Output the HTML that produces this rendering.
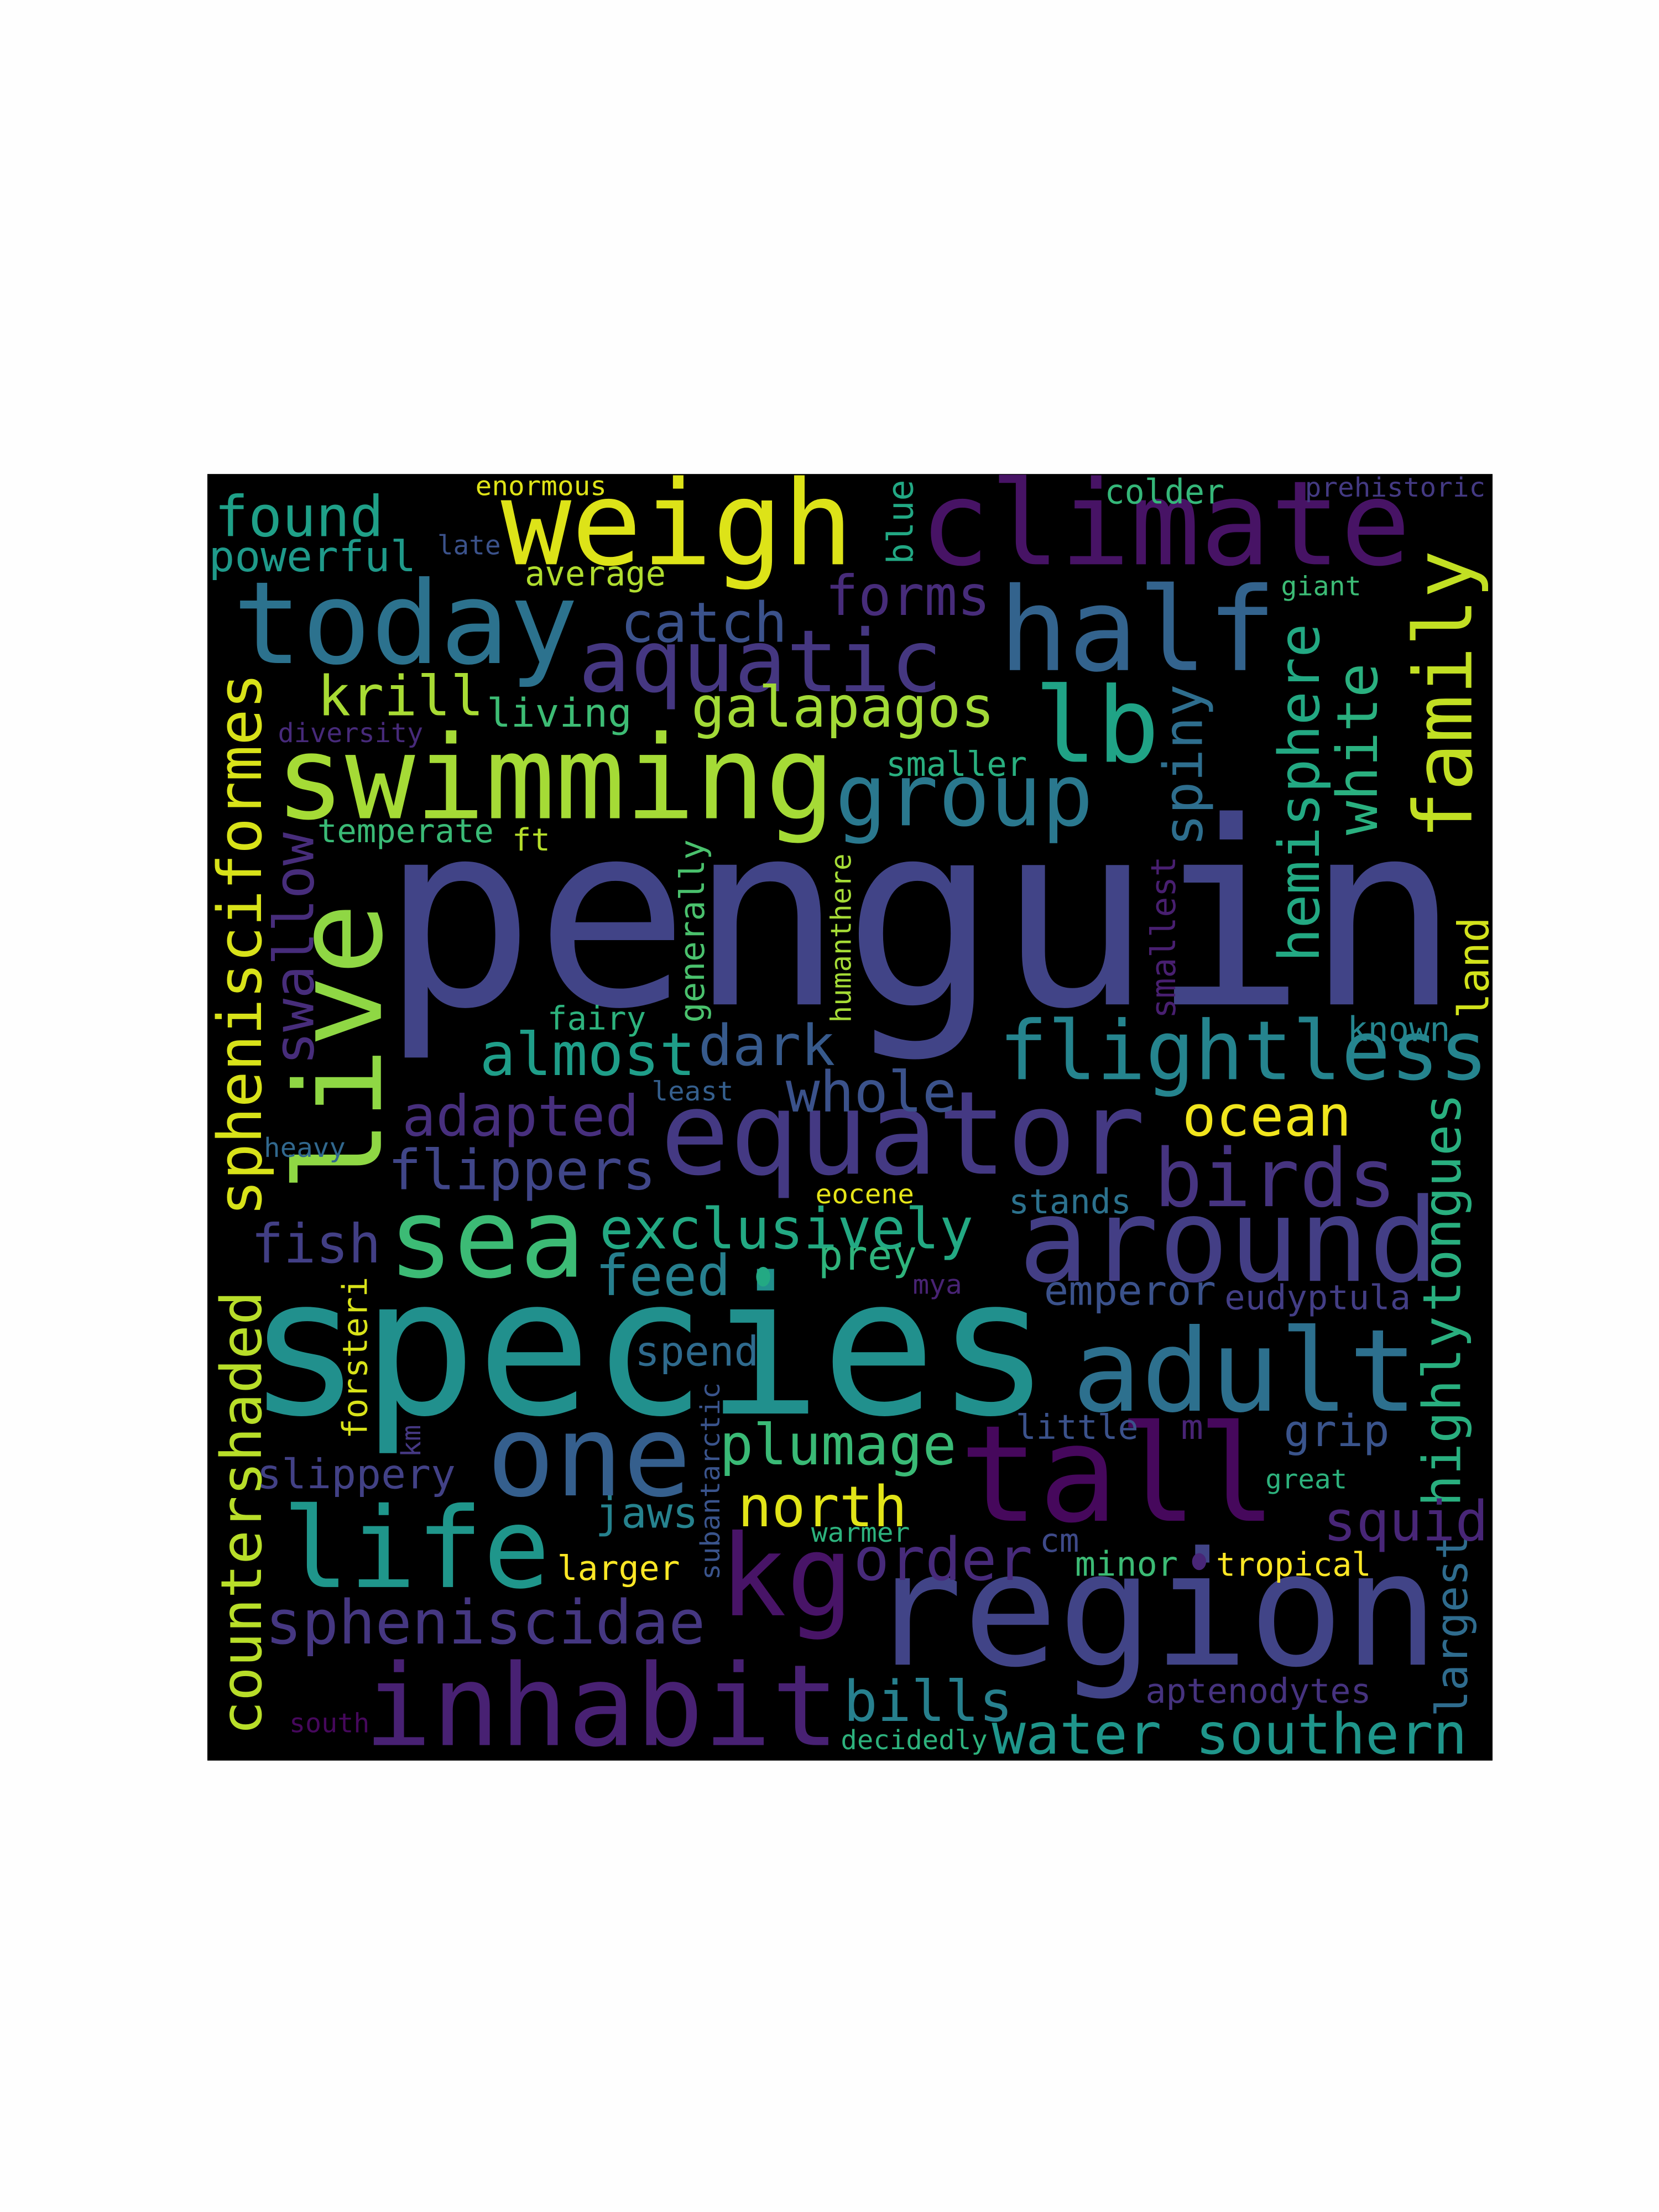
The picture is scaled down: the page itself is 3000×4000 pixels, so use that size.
<!DOCTYPE html>
<html><head><meta charset="utf-8"><style>
html,body{margin:0;padding:0;background:#fff;}
svg{display:block;}
text{font-family:"DejaVu Sans Mono","Liberation Mono",monospace;}
</style></head><body>
<svg width="3000" height="4000" viewBox="0 0 1176 1568" xmlns="http://www.w3.org/2000/svg">
<rect x="0" y="0" width="1176" height="1568" fill="#fefefe"/>
<rect x="147" y="336" width="911" height="912" fill="#000"/>
<g>
<text x="270" y="712" font-size="181" fill="#414487" textLength="765" lengthAdjust="spacingAndGlyphs">penguin</text>
<text x="175" y="1002" font-size="135" fill="#21908d" textLength="570" lengthAdjust="spacingAndGlyphs">species</text>
<text x="615" y="1180" font-size="112" fill="#414487" textLength="405" lengthAdjust="spacingAndGlyphs">region</text>
<text x="680" y="1078" font-size="95" fill="#46085c" textLength="225" lengthAdjust="spacingAndGlyphs">tall</text>
<text x="258" y="1237" font-size="80" fill="#482173" textLength="337" lengthAdjust="spacingAndGlyphs">inhabit</text>
<text x="510" y="1145" font-size="80" fill="#481467" textLength="95" lengthAdjust="spacingAndGlyphs">kg</text>
<text x="200" y="1125" font-size="79" fill="#1f968b" textLength="190" lengthAdjust="spacingAndGlyphs">life</text>
<text x="345" y="1060" font-size="80" fill="#355f8d" textLength="145" lengthAdjust="spacingAndGlyphs">one</text>
<text x="760" y="1000" font-size="81" fill="#2d708e" textLength="245" lengthAdjust="spacingAndGlyphs">adult</text>
<text x="722" y="908" font-size="82" fill="#433e85" textLength="298" lengthAdjust="spacingAndGlyphs">around</text>
<text x="468" y="832" font-size="82" fill="#443983" textLength="344" lengthAdjust="spacingAndGlyphs">equator</text>
<text x="275" y="905" font-size="78" fill="#3cbb75" textLength="140" lengthAdjust="spacingAndGlyphs">sea</text>
<text x="165" y="470" font-size="81" fill="#2c728e" textLength="245" lengthAdjust="spacingAndGlyphs">today</text>
<text x="708" y="475" font-size="82" fill="#33638d" textLength="197" lengthAdjust="spacingAndGlyphs">half</text>
<text x="652" y="400" font-size="83" fill="#471365" textLength="348" lengthAdjust="spacingAndGlyphs">climate</text>
<text x="355" y="400" font-size="83" fill="#dde318" textLength="250" lengthAdjust="spacingAndGlyphs">weigh</text>
<text x="195" y="580" font-size="82" fill="#a5db36" textLength="397" lengthAdjust="spacingAndGlyphs">swimming</text>
<text x="592" y="585" font-size="61" fill="#2a788e" textLength="183" lengthAdjust="spacingAndGlyphs">group</text>
<text x="733" y="540" font-size="74" fill="#20a386" textLength="89" lengthAdjust="spacingAndGlyphs">lb</text>
<text x="410" y="490" font-size="61" fill="#453781" textLength="258" lengthAdjust="spacingAndGlyphs">aquatic</text>
<text x="708" y="765" font-size="58" fill="#25848e" textLength="347" lengthAdjust="spacingAndGlyphs">flightless</text>
<text x="818" y="855" font-size="57" fill="#463480" textLength="172" lengthAdjust="spacingAndGlyphs">birds</text>

<text transform="translate(270,845) rotate(-90)" font-size="85" fill="#8fd744" textLength="205" lengthAdjust="spacingAndGlyphs">live</text>
<text transform="translate(1043,595) rotate(-90)" font-size="57" fill="#c2df23" textLength="205" lengthAdjust="spacingAndGlyphs">family</text>
<text transform="translate(935,682) rotate(-90)" font-size="40" fill="#23a983" textLength="240" lengthAdjust="spacingAndGlyphs">hemisphere</text>
<text transform="translate(976,592) rotate(-90)" font-size="40" fill="#2ab07f" textLength="122" lengthAdjust="spacingAndGlyphs">white</text>
<text transform="translate(852,600) rotate(-90)" font-size="38" fill="#2e6e8e" textLength="115" lengthAdjust="spacingAndGlyphs">spiny</text>
<text transform="translate(185,862) rotate(-90)" font-size="43" fill="#d8e219" textLength="385" lengthAdjust="spacingAndGlyphs">sphenisciformes</text>
<text transform="translate(185,1230) rotate(-90)" font-size="40" fill="#b8de29" textLength="315" lengthAdjust="spacingAndGlyphs">countershaded</text>
<text transform="translate(222,755) rotate(-90)" font-size="39" fill="#472d7b" textLength="165" lengthAdjust="spacingAndGlyphs">swallow</text>
<text transform="translate(1035,1068) rotate(-90)" font-size="37" fill="#29af7f" textLength="135" lengthAdjust="spacingAndGlyphs">highly</text>
<text transform="translate(1035,930) rotate(-90)" font-size="37" fill="#29af7f" textLength="155" lengthAdjust="spacingAndGlyphs">tongues</text>
<text transform="translate(1055,722) rotate(-90)" font-size="30" fill="#d2e21b" textLength="72" lengthAdjust="spacingAndGlyphs">land</text>
<text transform="translate(1040,1217) rotate(-90)" font-size="31" fill="#2f6c8e" textLength="130" lengthAdjust="spacingAndGlyphs">largest</text>
<text transform="translate(833,722) rotate(-90)" font-size="24" fill="#481f70" textLength="115" lengthAdjust="spacingAndGlyphs">smallest</text>
<text transform="translate(499,725) rotate(-90)" font-size="24" fill="#4ac16d" textLength="130" lengthAdjust="spacingAndGlyphs">generally</text>
<text transform="translate(603,725) rotate(-90)" font-size="20" fill="#a5db36" textLength="120" lengthAdjust="spacingAndGlyphs">humanthere</text>
<text transform="translate(647,400) rotate(-90)" font-size="25" fill="#22a884" textLength="60" lengthAdjust="spacingAndGlyphs">blue</text>
<text transform="translate(260,1020) rotate(-90)" font-size="24" fill="#d8e219" textLength="115" lengthAdjust="spacingAndGlyphs">forsteri</text>
<text transform="translate(510,1120) rotate(-90)" font-size="19" fill="#3a548c" textLength="140" lengthAdjust="spacingAndGlyphs">subantarctic</text>
<text transform="translate(298,1033) rotate(-90)" font-size="19" fill="#453882" textLength="23" lengthAdjust="spacingAndGlyphs">km</text>

<text x="152" y="380" font-size="40" fill="#1fa088" textLength="120" lengthAdjust="spacingAndGlyphs">found</text>
<text x="148" y="405" font-size="30" fill="#1f9a8a" textLength="147" lengthAdjust="spacingAndGlyphs">powerful</text>
<text x="337" y="351" font-size="19" fill="#dfe318" textLength="93" lengthAdjust="spacingAndGlyphs">enormous</text>
<text x="310" y="393" font-size="19" fill="#3b528b" textLength="45" lengthAdjust="spacingAndGlyphs">late</text>
<text x="372" y="415" font-size="24" fill="#b0dd2f" textLength="100" lengthAdjust="spacingAndGlyphs">average</text>
<text x="440" y="455" font-size="39" fill="#3b528b" textLength="118" lengthAdjust="spacingAndGlyphs">catch</text>
<text x="585" y="436" font-size="39" fill="#472c7a" textLength="117" lengthAdjust="spacingAndGlyphs">forms</text>
<text x="783" y="357" font-size="24" fill="#35b779" textLength="85" lengthAdjust="spacingAndGlyphs">colder</text>
<text x="925" y="352" font-size="19" fill="#443a83" textLength="128" lengthAdjust="spacingAndGlyphs">prehistoric</text>
<text x="908" y="422" font-size="19" fill="#3cbb75" textLength="57" lengthAdjust="spacingAndGlyphs">giant</text>
<text x="225" y="507" font-size="39" fill="#a8db34" textLength="118" lengthAdjust="spacingAndGlyphs">krill</text>
<text x="345" y="515" font-size="28" fill="#3dbc74" textLength="103" lengthAdjust="spacingAndGlyphs">living</text>
<text x="490" y="515" font-size="40" fill="#a2da37" textLength="215" lengthAdjust="spacingAndGlyphs">galapagos</text>
<text x="197" y="526" font-size="19" fill="#472a7a" textLength="103" lengthAdjust="spacingAndGlyphs">diversity</text>
<text x="628" y="550" font-size="24" fill="#29af7f" textLength="100" lengthAdjust="spacingAndGlyphs">smaller</text>
<text x="225" y="597" font-size="23" fill="#3aba76" textLength="125" lengthAdjust="spacingAndGlyphs">temperate</text>
<text x="363" y="603" font-size="22" fill="#b5de2b" textLength="27" lengthAdjust="spacingAndGlyphs">ft</text>
<text x="340" y="762" font-size="42" fill="#1f9e89" textLength="153" lengthAdjust="spacingAndGlyphs">almost</text>
<text x="495" y="755" font-size="40" fill="#375a8c" textLength="97" lengthAdjust="spacingAndGlyphs">dark</text>
<text x="388" y="730" font-size="23" fill="#2db27d" textLength="70" lengthAdjust="spacingAndGlyphs">fairy</text>
<text x="557" y="788" font-size="40" fill="#3b528b" textLength="121" lengthAdjust="spacingAndGlyphs">whole</text>
<text x="462" y="780" font-size="19" fill="#355f8d" textLength="58" lengthAdjust="spacingAndGlyphs">least</text>
<text x="285" y="805" font-size="40" fill="#472f7d" textLength="168" lengthAdjust="spacingAndGlyphs">adapted</text>
<text x="838" y="805" font-size="40" fill="#f1e51d" textLength="120" lengthAdjust="spacingAndGlyphs">ocean</text>
<text x="955" y="738" font-size="24" fill="#25858e" textLength="73" lengthAdjust="spacingAndGlyphs">known</text>
<text x="187" y="820" font-size="19" fill="#31688e" textLength="58" lengthAdjust="spacingAndGlyphs">heavy</text>
<text x="275" y="843" font-size="39" fill="#404688" textLength="190" lengthAdjust="spacingAndGlyphs">flippers</text>
<text x="578" y="853" font-size="19" fill="#e5e419" textLength="70" lengthAdjust="spacingAndGlyphs">eocene</text>
<text x="715" y="860" font-size="24" fill="#2c728e" textLength="87" lengthAdjust="spacingAndGlyphs">stands</text>
<text x="425" y="885" font-size="40" fill="#23a983" textLength="265" lengthAdjust="spacingAndGlyphs">exclusively</text>
<text x="178" y="895" font-size="38" fill="#423f85" textLength="92" lengthAdjust="spacingAndGlyphs">fish</text>
<text x="422" y="918" font-size="40" fill="#277f8e" textLength="96" lengthAdjust="spacingAndGlyphs">feed</text>
<text x="580" y="900" font-size="29" fill="#2fb47c" textLength="70" lengthAdjust="spacingAndGlyphs">prey</text>
<text x="647" y="917" font-size="19" fill="#482374" textLength="35" lengthAdjust="spacingAndGlyphs">mya</text>
<text x="740" y="925" font-size="29" fill="#3b528b" textLength="122" lengthAdjust="spacingAndGlyphs">emperor</text>
<text x="868" y="928" font-size="24" fill="#433e85" textLength="132" lengthAdjust="spacingAndGlyphs">eudyptula</text>
<text x="450" y="968" font-size="29" fill="#2f6b8e" textLength="88" lengthAdjust="spacingAndGlyphs">spend</text>
<text x="720" y="1020" font-size="24" fill="#3b528b" textLength="87" lengthAdjust="spacingAndGlyphs">little</text>
<text x="837" y="1020" font-size="24" fill="#482475" textLength="16" lengthAdjust="spacingAndGlyphs">m</text>
<text x="910" y="1025" font-size="31" fill="#3a548c" textLength="75" lengthAdjust="spacingAndGlyphs">grip</text>
<text x="510" y="1038" font-size="40" fill="#3aba76" textLength="168" lengthAdjust="spacingAndGlyphs">plumage</text>
<text x="182" y="1055" font-size="29" fill="#424186" textLength="141" lengthAdjust="spacingAndGlyphs">slippery</text>
<text x="897" y="1055" font-size="19" fill="#2db27d" textLength="58" lengthAdjust="spacingAndGlyphs">great</text>
<text x="523" y="1082" font-size="40" fill="#e2e418" textLength="120" lengthAdjust="spacingAndGlyphs">north</text>
<text x="422" y="1083" font-size="30" fill="#26828e" textLength="73" lengthAdjust="spacingAndGlyphs">jaws</text>
<text x="938" y="1092" font-size="39" fill="#482677" textLength="117" lengthAdjust="spacingAndGlyphs">squid</text>
<text x="575" y="1093" font-size="19" fill="#2db27d" textLength="70" lengthAdjust="spacingAndGlyphs">warmer</text>
<text x="605" y="1120" font-size="42" fill="#472a7a" textLength="127" lengthAdjust="spacingAndGlyphs">order</text>
<text x="737" y="1100" font-size="23" fill="#3e4a89" textLength="28" lengthAdjust="spacingAndGlyphs">cm</text>
<text x="395" y="1120" font-size="24" fill="#fde725" textLength="87" lengthAdjust="spacingAndGlyphs">larger</text>
<text x="762" y="1117" font-size="24" fill="#3cbb75" textLength="73" lengthAdjust="spacingAndGlyphs">minor</text>
<text x="862" y="1117" font-size="23" fill="#fde725" textLength="110" lengthAdjust="spacingAndGlyphs">tropical</text>
<text x="188" y="1165" font-size="43" fill="#453781" textLength="312" lengthAdjust="spacingAndGlyphs">spheniscidae</text>
<text x="598" y="1220" font-size="40" fill="#27808e" textLength="120" lengthAdjust="spacingAndGlyphs">bills</text>
<text x="812" y="1207" font-size="24" fill="#46337f" textLength="160" lengthAdjust="spacingAndGlyphs">aptenodytes</text>
<text x="205" y="1228" font-size="19" fill="#46085c" textLength="57" lengthAdjust="spacingAndGlyphs">south</text>
<text x="596" y="1240" font-size="19" fill="#2db27d" textLength="104" lengthAdjust="spacingAndGlyphs">decidedly</text>
<text x="703" y="1243" font-size="40" fill="#1f968b" textLength="337" lengthAdjust="spacingAndGlyphs">water southern</text>
</g>
<ellipse cx="541" cy="905" rx="5" ry="7" fill="#23a983"/>
<ellipse cx="850" cy="1107" rx="5" ry="6" fill="#482677"/>
</svg>
</body></html>
